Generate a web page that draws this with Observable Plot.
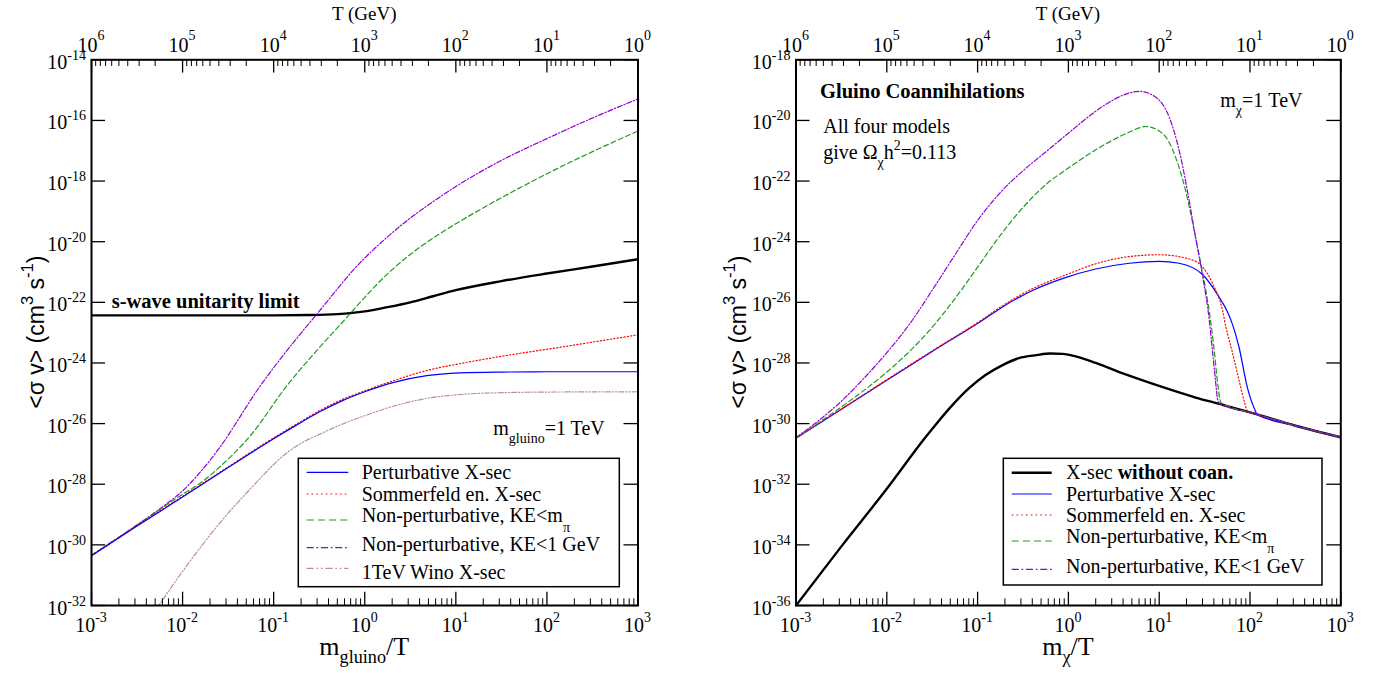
<!DOCTYPE html>
<html><head><meta charset="utf-8">
<script src="https://cdn.jsdelivr.net/npm/d3@7"></script>
<script src="https://cdn.jsdelivr.net/npm/@observablehq/plot@0.6"></script>
<style>
html,body{margin:0;padding:0;background:#fff;overflow:hidden}
#wrap{display:flex;width:1379px;height:673px}
#wrap svg{flex-shrink:0;display:block}
</style></head><body><div id="wrap"></div>
<script>
// ---------------- data (log10 values) ----------------
const xTickExp = [-3, -2, -1, 0, 1, 2, 3];          // m/T decades
const tTickExp = [6, 5, 4, 3, 2, 1, 0];              // T (GeV) decades
const massGeV = 1000;                                 // 1 TeV
const leftYTickExp = [-32, -30, -28, -26, -24, -22, -20, -18, -16, -14];
const rightYTickExp = [-36, -34, -32, -30, -28, -26, -24, -22, -20, -18];

// left panel: gluino annihilation
const gPertLogX = [-3, -2.5, -2, -1.5, -1, -0.75, -0.5, -0.25, 0, 0.32, 0.68, 1.05, 1.5, 2, 3];
const gPertLogY = [-30.36, -29.38, -28.42, -27.45, -26.5, -26.05, -25.62, -25.25, -24.95, -24.64, -24.42, -24.33, -24.3, -24.29, -24.29];
const gSommLogX = [-3, -2.5, -2, -1.5, -1, -0.75, -0.5, -0.25, 0, 0.32, 0.68, 1.05, 1.42, 2.15, 3];
const gSommLogY = [-30.35, -29.36, -28.4, -27.43, -26.47, -26.02, -25.58, -25.21, -24.92, -24.58, -24.25, -24.02, -23.82, -23.48, -23.07];
const gMpiLogX = [-3, -2.5, -2, -1.8, -1.6, -1.24, -0.87, -0.5, -0.18, -0.05, 0.25, 0.5, 0.75, 1.0, 1.5, 2.0, 2.5, 3];
const gMpiLogY = [-30.35, -29.35, -28.33, -27.95, -27.45, -26.34, -24.81, -23.5, -22.44, -22.0, -21.06, -20.42, -19.88, -19.41, -18.55, -17.76, -17.03, -16.35];
const g1GeVLogX = [-3, -2.5, -2.2, -2, -1.8, -1.6, -1.16, -0.69, -0.54, -0.05, 0.25, 0.5, 0.75, 1.0, 1.5, 2.0, 2.5, 3];
const g1GeVLogY = [-30.34, -29.34, -28.7, -28.22, -27.58, -26.82, -24.81, -22.98, -22.44, -20.69, -19.84, -19.22, -18.68, -18.18, -17.32, -16.6, -15.92, -15.29];
const winoLogX = [-2.3, -1.97, -1.6, -1.24, -0.87, -0.7, -0.5, -0.25, 0, 0.32, 0.68, 1.05, 1.5, 2, 3];
const winoLogY = [-32.17, -30.75, -29.31, -28.1, -27.0, -26.65, -26.36, -26.02, -25.74, -25.42, -25.17, -25.04, -24.98, -24.96, -24.95];
const unitLogX = [-3, -1, -0.6, -0.3, 0, 0.25, 0.5, 0.75, 1, 1.5, 2, 2.5, 3];
const unitLogY = [-22.43, -22.43, -22.42, -22.39, -22.3, -22.16, -22.0, -21.8, -21.6, -21.3, -21.05, -20.82, -20.58];

// right panel: gluino coannihilations
const cNoLogX = [-3, -2.5, -2, -1.574, -1.43, -1.28, -1.1, -0.913, -0.73, -0.546, -0.35, -0.2, -0.065, 0.1, 0.3, 0.67, 1.04, 1.4, 1.7, 2.06, 2.5, 3];
const cNoLogY = [-36, -34.05, -32.15, -30.45, -29.92, -29.4, -28.85, -28.4, -28.08, -27.84, -27.74, -27.69, -27.7, -27.8, -28.0, -28.42, -28.8, -29.14, -29.38, -29.68, -30.07, -30.45];
const cPertLogX = [-3, -2.5, -2, -1.5, -0.95, -0.73, -0.36, -0.05, 0.3, 0.67, 1.0, 1.22, 1.48, 1.66, 1.75, 1.81, 1.88, 1.97, 2.05, 2.08, 2.5, 3];
const cPertLogY = [-30.48, -29.53, -28.57, -27.62, -26.6, -26.16, -25.56, -25.2, -24.9, -24.71, -24.65, -24.71, -25.09, -25.83, -26.3, -26.75, -27.49, -28.8, -29.52, -29.7, -30.07, -30.45];
const cSommLogX = [-3, -2.5, -2, -1.5, -0.95, -0.73, -0.36, -0.05, 0.3, 0.67, 1.0, 1.33, 1.48, 1.59, 1.7, 1.73, 1.81, 1.88, 1.94, 1.97, 2.06, 2.5, 3];
const cSommLogY = [-30.47, -29.52, -28.55, -27.6, -26.57, -26.12, -25.5, -25.12, -24.73, -24.49, -24.43, -24.57, -24.84, -25.39, -26.3, -26.75, -27.7, -28.58, -29.3, -29.58, -29.68, -30.07, -30.45];
const cMpiLogX = [-3, -2.5, -2, -1.75, -1.5, -1.25, -1.0, -0.75, -0.5, -0.25, 0, 0.3, 0.67, 0.85, 1.04, 1.18, 1.29, 1.4, 1.48, 1.55, 1.58, 1.61, 1.64, 1.68, 2.06, 2.5, 3];
const cMpiLogY = [-30.47, -29.45, -28.3, -27.62, -26.82, -25.88, -24.84, -23.79, -22.87, -22.12, -21.57, -20.97, -20.39, -20.2, -20.44, -21.21, -22.31, -23.85, -25.06, -26.27, -26.93, -27.7, -28.58, -29.3, -29.68, -30.07, -30.45];
const c1GeVLogX = [-3, -2.75, -2.5, -2.25, -2, -1.75, -1.5, -1.25, -1, -0.75, -0.5, -0.25, 0, 0.3, 0.45, 0.6, 0.78, 0.96, 1.11, 1.22, 1.31, 1.4, 1.48, 1.55, 1.59, 1.62, 1.64, 1.66, 2.06, 2.5, 3];
const c1GeVLogY = [-30.46, -29.9, -29.26, -28.5, -27.66, -26.72, -25.6, -24.44, -23.3, -22.38, -21.66, -21.04, -20.42, -19.7, -19.4, -19.17, -19.04, -19.23, -19.89, -20.99, -22.31, -23.85, -25.17, -26.55, -27.7, -28.58, -29.14, -29.33, -29.68, -30.07, -30.45];

// ---------------- helpers ----------------
const pts = (lx, ly) => lx.map((v, i) => ({x: 10 ** v, y: 10 ** ly[i]}));
const SERIF = '"Liberation Serif","Times New Roman",serif';
const SANS = '"Liberation Sans",Arial,sans-serif';

const STY = {
  pert:  {stroke: "#0000ff", strokeWidth: 1.2, dash: null},
  somm:  {stroke: "#ff0000", strokeWidth: 1.2, dash: "1.2,2.2"},
  mpi:   {stroke: "#1e9b1e", strokeWidth: 1.2, dash: "5,3"},
  gev:   {stroke: "#9400d3", strokeWidth: 1.2, dash: "5,2,1.2,2"},
  wino:  {stroke: "#bc8f8f", strokeWidth: 1.2, dash: "5,2,1.2,2,1.2,2"},
  black: {stroke: "#000000", strokeWidth: 2.4, dash: null}
};

function rich(g, str, o) {
  const size = o.size || 20, ratio = o.ratio || 0.7;
  const subOff = o.sub != null ? o.sub : 0.4 * size;
  const supOff = o.sup != null ? o.sup : 0.5 * size;
  const t = g.append("text").attr("x", o.x).attr("y", o.y)
    .attr("text-anchor", o.anchor || "start")
    .style("font-family", o.family || SERIF)
    .style("font-size", size + "px")
    .style("font-weight", o.weight || "normal")
    .style("white-space", "pre")
    .attr("fill", "black");
  if (o.rotate) t.attr("transform", `rotate(${o.rotate},${o.x},${o.y})`);
  let cur = 0;
  for (const part of str.split(/(_\{[^}]*\}|\^\{[^}]*\}|\*\{[^}]*\})/)) {
    if (!part) continue;
    let txt = part, fs = size, off = 0, bold = false;
    if (part.startsWith("_{")) { txt = part.slice(2, -1); fs = size * ratio; off = subOff; }
    else if (part.startsWith("^{")) { txt = part.slice(2, -1); fs = size * ratio; off = -supOff; }
    else if (part.startsWith("*{")) { txt = part.slice(2, -1); bold = true; }
    const ts = t.append("tspan").attr("dy", off - cur).style("font-size", fs + "px").text(txt);
    if (bold) ts.style("font-weight", "bold");
    cur = off;
  }
  return t;
}

function panel(cfg) {
  const height = 673, marginTop = 59.3, marginBottom = 68;
  const {width, marginLeft, marginRight, yExp, series} = cfg;
  const plotW = width - marginLeft - marginRight, plotH = height - marginTop - marginBottom;
  const xMajor = xTickExp.map(e => 10 ** e);
  const xMinor = [];
  for (let e = -3; e < 3; e++) for (let k = 2; k <= 9; k++) xMinor.push(k * 10 ** e);
  const tMinor = [];
  for (let e = 0; e < 6; e++) for (let k = 2; k <= 9; k++) tMinor.push(massGeV / (k * 10 ** e));
  const tMajor = tTickExp.map(e => massGeV / 10 ** e);
  const yMajor = yExp.map(e => 10 ** e);
  const marks = [
    ...series.map(s => Plot.line(s.data, {x: "x", y: "y", stroke: s.style.stroke, strokeWidth: s.style.strokeWidth,
      strokeDasharray: s.style.dash || undefined, curve: "monotone-x", clip: true})),
    Plot.ruleX(xMajor, {insetTop: plotH - 13.3, stroke: "black", strokeWidth: 1.3}),
    Plot.ruleX(xMinor, {insetTop: plotH - 6.7, stroke: "black", strokeWidth: 1}),
    Plot.ruleX(tMajor, {insetBottom: plotH - 13.3, stroke: "black", strokeWidth: 1.3}),
    Plot.ruleX(tMinor, {insetBottom: plotH - 6.7, stroke: "black", strokeWidth: 1}),
    Plot.ruleY(yMajor, {insetRight: plotW - 14, stroke: "black", strokeWidth: 1.3}),
    Plot.ruleY(yMajor, {insetLeft: plotW - 14, stroke: "black", strokeWidth: 1.3}),
    Plot.frame({stroke: "black", strokeWidth: 2})
  ];
  const svg = Plot.plot({
    width, height, marginTop, marginBottom, marginLeft, marginRight,
    x: {type: "log", domain: [1e-3, 1e3], axis: null},
    y: {type: "log", domain: [10 ** yExp[0], 10 ** yExp[yExp.length - 1]], axis: null},
    style: {background: "white", overflow: "visible"},
    marks
  });
  const sx = svg.scale("x"), sy = svg.scale("y");
  const g = d3.select(svg).append("g");
  xTickExp.forEach(e => rich(g, `10^{${e}}`, {x: sx.apply(10 ** e), y: 631.7, anchor: "middle", size: 20, sup: 10}));
  tTickExp.forEach(e => rich(g, `10^{${e}}`, {x: sx.apply(massGeV / 10 ** e), y: 52, anchor: "middle", size: 20, sup: 12}));
  yExp.forEach(e => rich(g, `10^{${e}}`, {x: marginLeft - 5, y: sy.apply(10 ** e) + 9.5, anchor: "end", size: 20, sup: 9}));
  const cx = marginLeft + plotW / 2;
  rich(g, "T (GeV)", {x: cx, y: 20, anchor: "middle", size: 19});
  rich(g, cfg.xTitle, {x: cx, y: 655, anchor: "middle", size: 26, ratio: 0.7, sub: 8});
  rich(g, "<σ v> (cm^{3} s^{-1})", {x: cfg.yTitleX, y: marginTop + plotH / 2, anchor: "middle", size: 23,
    family: SANS, rotate: -90, sup: 11, ratio: 0.72});
  return {svg, g};
}

function legend(g, box, lineX0, lineX1, textX, rows) {
  g.append("rect").attr("x", box[0]).attr("y", box[1]).attr("width", box[2] - box[0]).attr("height", box[3] - box[1])
    .attr("fill", "white").attr("stroke", "black").attr("stroke-width", 1.5);
  rows.forEach(r => {
    g.append("line").attr("x1", lineX0).attr("x2", lineX1).attr("y1", r.ly).attr("y2", r.ly)
      .attr("stroke", r.style.stroke).attr("stroke-width", r.style.strokeWidth)
      .attr("stroke-dasharray", r.style.dash ? r.style.dash.split(",").map(v => v * 1.4).join(",") : null);
    rich(g, r.label, {x: textX, y: r.ty, size: 20, sub: r.sub || 8});
  });
}

const wrap = document.getElementById("wrap");

// ---------------- left panel ----------------
const L = panel({
  width: 689, marginLeft: 91, marginRight: 51.5, yExp: leftYTickExp, yTitleX: 44,
  xTitle: "m_{gluino}/T",
  series: [
    {data: pts(unitLogX, unitLogY), style: STY.black},
    {data: pts(winoLogX, winoLogY), style: STY.wino},
    {data: pts(g1GeVLogX, g1GeVLogY), style: STY.gev},
    {data: pts(gMpiLogX, gMpiLogY), style: STY.mpi},
    {data: pts(gSommLogX, gSommLogY), style: STY.somm},
    {data: pts(gPertLogX, gPertLogY), style: STY.pert}
  ]
});
rich(L.g, "s-wave unitarity limit", {x: 111.7, y: 308, size: 20.5, weight: "bold"});
rich(L.g, "m_{gluino}=1 TeV", {x: 493.3, y: 435, size: 20, sub: 8});
legend(L.g, [298.3, 458.3, 619.3, 586.7], 306.7, 348.3, 361.7, [
  {style: STY.pert, ly: 472.3, ty: 479.3, label: "Perturbative X-sec"},
  {style: STY.somm, ly: 494, ty: 500.5, label: "Sommerfeld en. X-sec"},
  {style: STY.mpi, ly: 520, ty: 522, label: "Non-perturbative, KE<m_{π}", sub: 10},
  {style: STY.gev, ly: 547.7, ty: 551, label: "Non-perturbative, KE<1 GeV"},
  {style: STY.wino, ly: 568.3, ty: 579, label: "1TeV Wino X-sec"}
]);
wrap.appendChild(L.svg);

// ---------------- right panel ----------------
const OX = 689;
const R = panel({
  width: 690, marginLeft: 106.5, marginRight: 38.7, yExp: rightYTickExp, yTitleX: 57,
  xTitle: "m_{χ}/T",
  series: [
    {data: pts(cNoLogX, cNoLogY), style: STY.black},
    {data: pts(cPertLogX, cPertLogY), style: STY.pert},
    {data: pts(cSommLogX, cSommLogY), style: STY.somm},
    {data: pts(cMpiLogX, cMpiLogY), style: STY.mpi},
    {data: pts(c1GeVLogX, c1GeVLogY), style: STY.gev}
  ]
});
rich(R.g, "Gluino Coannihilations", {x: 820 - OX, y: 98.3, size: 20.5, weight: "bold"});
rich(R.g, "All four models", {x: 823.3 - OX, y: 133.3, size: 20});
rich(R.g, "give Ω_{χ}h^{2}=0.113", {x: 823.3 - OX, y: 159.3, size: 20, sub: 8, sup: 9});
rich(R.g, "m_{χ}=1 TeV", {x: 1220.3 - OX, y: 106.7, size: 20, sub: 8});
legend(R.g, [1003.3 - OX, 458.3, 1322 - OX, 585], 1011.7 - OX, 1051.7 - OX, 1066 - OX, [
  {style: STY.black, ly: 472.7, ty: 479.3, label: "X-sec *{without coan.}"},
  {style: STY.pert, ly: 494, ty: 500.7, label: "Perturbative X-sec"},
  {style: STY.somm, ly: 515, ty: 522, label: "Sommerfeld en. X-sec"},
  {style: STY.mpi, ly: 541, ty: 543, label: "Non-perturbative, KE<m_{π}", sub: 10},
  {style: STY.gev, ly: 569.3, ty: 573, label: "Non-perturbative, KE<1 GeV"}
]);
wrap.appendChild(R.svg);
</script></body></html>
